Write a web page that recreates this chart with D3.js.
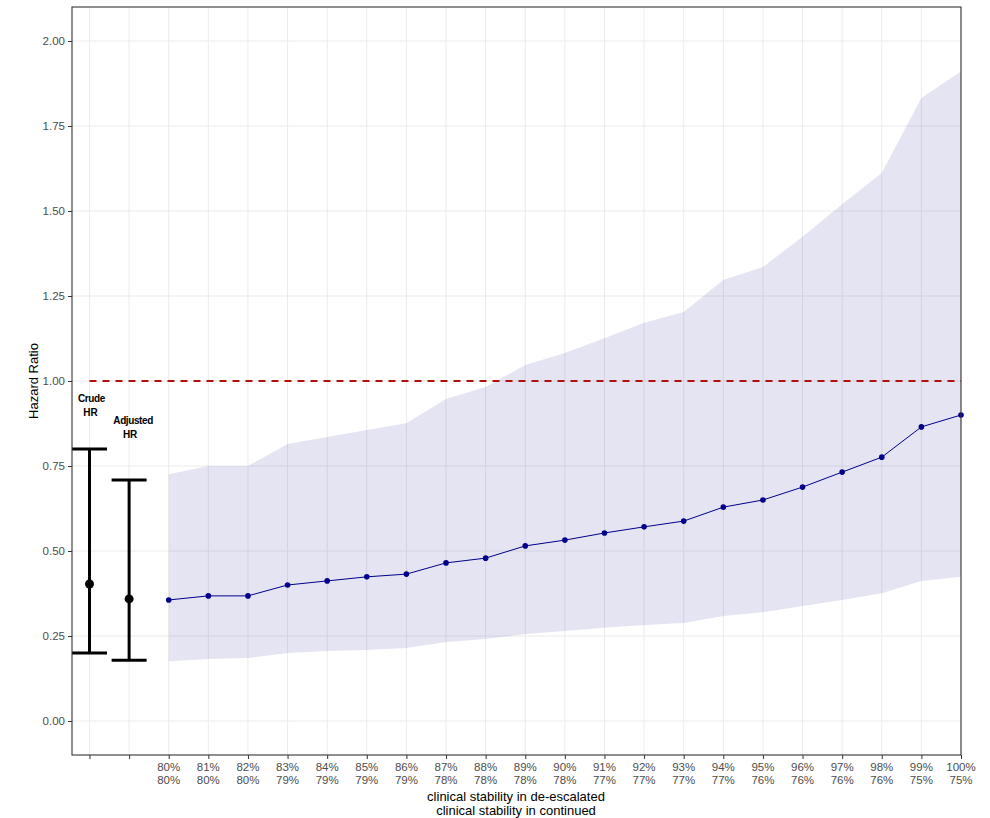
<!DOCTYPE html>
<html>
<head>
<meta charset="utf-8">
<script src="https://cdn.jsdelivr.net/npm/d3@7"></script>
<style>
  body { margin: 0; background: #fff; }
  svg { display: block; font-family: "Liberation Sans", Arial, sans-serif; }
</style>
</head>
<body>
<div id="chart"></div>
<script>
// categories on the x axis (two label-less slots for crude / adjusted HR)
var deescalated   = ['80%','81%','82%','83%','84%','85%','86%','87%','88%','89%','90%','91%','92%','93%','94%','95%','96%','97%','98%','99%','100%'];
var continued     = ['80%','80%','80%','79%','79%','79%','79%','78%','78%','78%','78%','77%','77%','77%','77%','76%','76%','76%','76%','75%','75%'];
var hr            = [0.356,0.368,0.368,0.400,0.412,0.424,0.432,0.465,0.479,0.515,0.532,0.553,0.571,0.588,0.629,0.650,0.688,0.732,0.776,0.865,0.900];
var hr_lower      = [0.176,0.182,0.185,0.200,0.206,0.209,0.215,0.232,0.241,0.256,0.265,0.274,0.282,0.288,0.309,0.320,0.338,0.356,0.376,0.412,0.424];
var hr_upper      = [0.726,0.750,0.750,0.815,0.835,0.856,0.876,0.947,0.982,1.047,1.082,1.126,1.171,1.203,1.297,1.335,1.424,1.520,1.612,1.832,1.910];

var ref_names     = ['Crude', 'Adjusted'];
var ref_hr        = [0.403, 0.359];
var ref_lower     = [0.200, 0.179];
var ref_upper     = [0.800, 0.709];

var y_ticks       = [0, 0.25, 0.5, 0.75, 1, 1.25, 1.5, 1.75, 2];

var chart_width   = 990;
var chart_height  = 818;
var panel         = { left: 72, right: 961, top: 7, bottom: 755 };

var svg = d3.select('#chart')
    .append('svg')
    .attr('width', chart_width)
    .attr('height', chart_height);

// index 0,1 = crude/adjusted, 2.. = scenarios
var x_scale = d3.scaleLinear()
    .domain([0, deescalated.length + 1])
    .range([89.5, 961]);

var y_scale = d3.scaleLinear()
    .domain([-0.1, 2.1])
    .range([panel.bottom, panel.top]);

var all_idx = d3.range(deescalated.length + 2);

// grid
svg.append('g')
    .selectAll('line')
    .data(y_ticks)
    .enter()
    .append('line')
    .attr('x1', panel.left).attr('x2', panel.right)
    .attr('y1', d => y_scale(d)).attr('y2', d => y_scale(d))
    .attr('stroke', '#ebebeb').attr('stroke-width', 1);

svg.append('g')
    .selectAll('line')
    .data(all_idx)
    .enter()
    .append('line')
    .attr('x1', d => x_scale(d)).attr('x2', d => x_scale(d))
    .attr('y1', panel.top).attr('y2', panel.bottom)
    .attr('stroke', '#ebebeb').attr('stroke-width', 1);

// confidence ribbon
var band = d3.area()
    .x((d, i) => x_scale(i + 2))
    .y0((d, i) => y_scale(hr_lower[i]))
    .y1((d, i) => y_scale(hr_upper[i]));

svg.append('path')
    .datum(hr)
    .attr('d', band)
    .attr('fill', '#1e1e96')
    .attr('fill-opacity', 0.12);

// reference line at HR = 1
svg.append('line')
    .attr('x1', x_scale(0)).attr('x2', panel.right)
    .attr('y1', y_scale(1)).attr('y2', y_scale(1))
    .attr('stroke', '#b20f0f')
    .attr('stroke-width', 2)
    .attr('stroke-dasharray', '7,6');

// scenario line + points
var line = d3.line()
    .x((d, i) => x_scale(i + 2))
    .y(d => y_scale(d));

svg.append('path')
    .datum(hr)
    .attr('d', line)
    .attr('fill', 'none')
    .attr('stroke', '#00008b')
    .attr('stroke-width', 1);

svg.append('g')
    .selectAll('circle')
    .data(hr)
    .enter()
    .append('circle')
    .attr('cx', (d, i) => x_scale(i + 2))
    .attr('cy', d => y_scale(d))
    .attr('r', 2.8)
    .attr('fill', '#00008b');

// crude / adjusted error bars
var eb = svg.append('g')
    .selectAll('g')
    .data(ref_hr)
    .enter()
    .append('g');

eb.append('line')
    .attr('x1', (d, i) => x_scale(i)).attr('x2', (d, i) => x_scale(i))
    .attr('y1', (d, i) => y_scale(ref_lower[i])).attr('y2', (d, i) => y_scale(ref_upper[i]))
    .attr('stroke', '#000').attr('stroke-width', 3);

eb.append('line')
    .attr('x1', (d, i) => x_scale(i) - 17.5).attr('x2', (d, i) => x_scale(i) + 17.5)
    .attr('y1', (d, i) => y_scale(ref_lower[i])).attr('y2', (d, i) => y_scale(ref_lower[i]))
    .attr('stroke', '#000').attr('stroke-width', 3);

eb.append('line')
    .attr('x1', (d, i) => x_scale(i) - 17.5).attr('x2', (d, i) => x_scale(i) + 17.5)
    .attr('y1', (d, i) => y_scale(ref_upper[i])).attr('y2', (d, i) => y_scale(ref_upper[i]))
    .attr('stroke', '#000').attr('stroke-width', 3);

eb.append('circle')
    .attr('cx', (d, i) => x_scale(i))
    .attr('cy', d => y_scale(d))
    .attr('r', 4.5)
    .attr('fill', '#000');

// labels above the error bars
var label_y = [0.95, 0.885];
eb.append('text')
    .attr('x', (d, i) => x_scale(i) + (i === 0 ? 2 : 4))
    .attr('y', (d, i) => y_scale(label_y[i]) + 4)
    .attr('text-anchor', 'middle')
    .attr('font-size', 10)
    .attr('font-weight', 'bold')
    .attr('letter-spacing', -0.4)
    .text((d, i) => ref_names[i]);

eb.append('text')
    .attr('x', (d, i) => x_scale(i) + 1)
    .attr('y', (d, i) => y_scale(label_y[i]) + 18)
    .attr('text-anchor', 'middle')
    .attr('font-size', 10)
    .attr('font-weight', 'bold')
    .text('HR');

// panel border
svg.append('rect')
    .attr('x', panel.left).attr('y', panel.top)
    .attr('width', panel.right - panel.left)
    .attr('height', panel.bottom - panel.top)
    .attr('fill', 'none')
    .attr('stroke', '#333')
    .attr('stroke-width', 1.1);

// y axis
var y_axis = svg.append('g')
    .attr('transform', 'translate(' + panel.left + ',0)')
    .call(d3.axisLeft(y_scale).tickValues(y_ticks).tickFormat(d3.format('.2f')).tickSize(4).tickPadding(3));
y_axis.select('.domain').remove();
y_axis.selectAll('line').attr('stroke', '#333');
y_axis.selectAll('text').attr('fill', '#4d4d4d').attr('font-size', 11.5).attr('font-family', '"Liberation Sans", Arial, sans-serif');

// x axis
var x_axis = svg.append('g')
    .attr('transform', 'translate(0,' + panel.bottom + ')')
    .call(d3.axisBottom(x_scale).tickValues(all_idx).tickFormat('').tickSize(4));
x_axis.select('.domain').remove();
x_axis.selectAll('line').attr('stroke', '#333');

var xl = svg.append('g')
    .selectAll('text')
    .data(deescalated)
    .enter()
    .append('text')
    .attr('x', (d, i) => x_scale(i + 2))
    .attr('y', 771)
    .attr('text-anchor', 'middle')
    .attr('font-size', 11.5)
    .attr('fill', '#4d4d4d');
xl.append('tspan').attr('x', (d, i) => x_scale(i + 2)).text(d => d);
xl.append('tspan').attr('x', (d, i) => x_scale(i + 2)).attr('dy', 12.5).text((d, i) => continued[i]);

// axis titles
svg.append('text')
    .attr('x', 516).attr('y', 801)
    .attr('text-anchor', 'middle')
    .attr('font-size', 13)
    .attr('fill', '#000')
    .text('clinical stability in de-escalated');
svg.append('text')
    .attr('x', 516).attr('y', 815)
    .attr('text-anchor', 'middle')
    .attr('font-size', 13)
    .attr('fill', '#000')
    .text('clinical stability in continued');

svg.append('text')
    .attr('transform', 'translate(38,' + y_scale(1) + ') rotate(-90)')
    .attr('text-anchor', 'middle')
    .attr('font-size', 13)
    .attr('fill', '#000')
    .text('Hazard Ratio');
</script>
</body>
</html>
